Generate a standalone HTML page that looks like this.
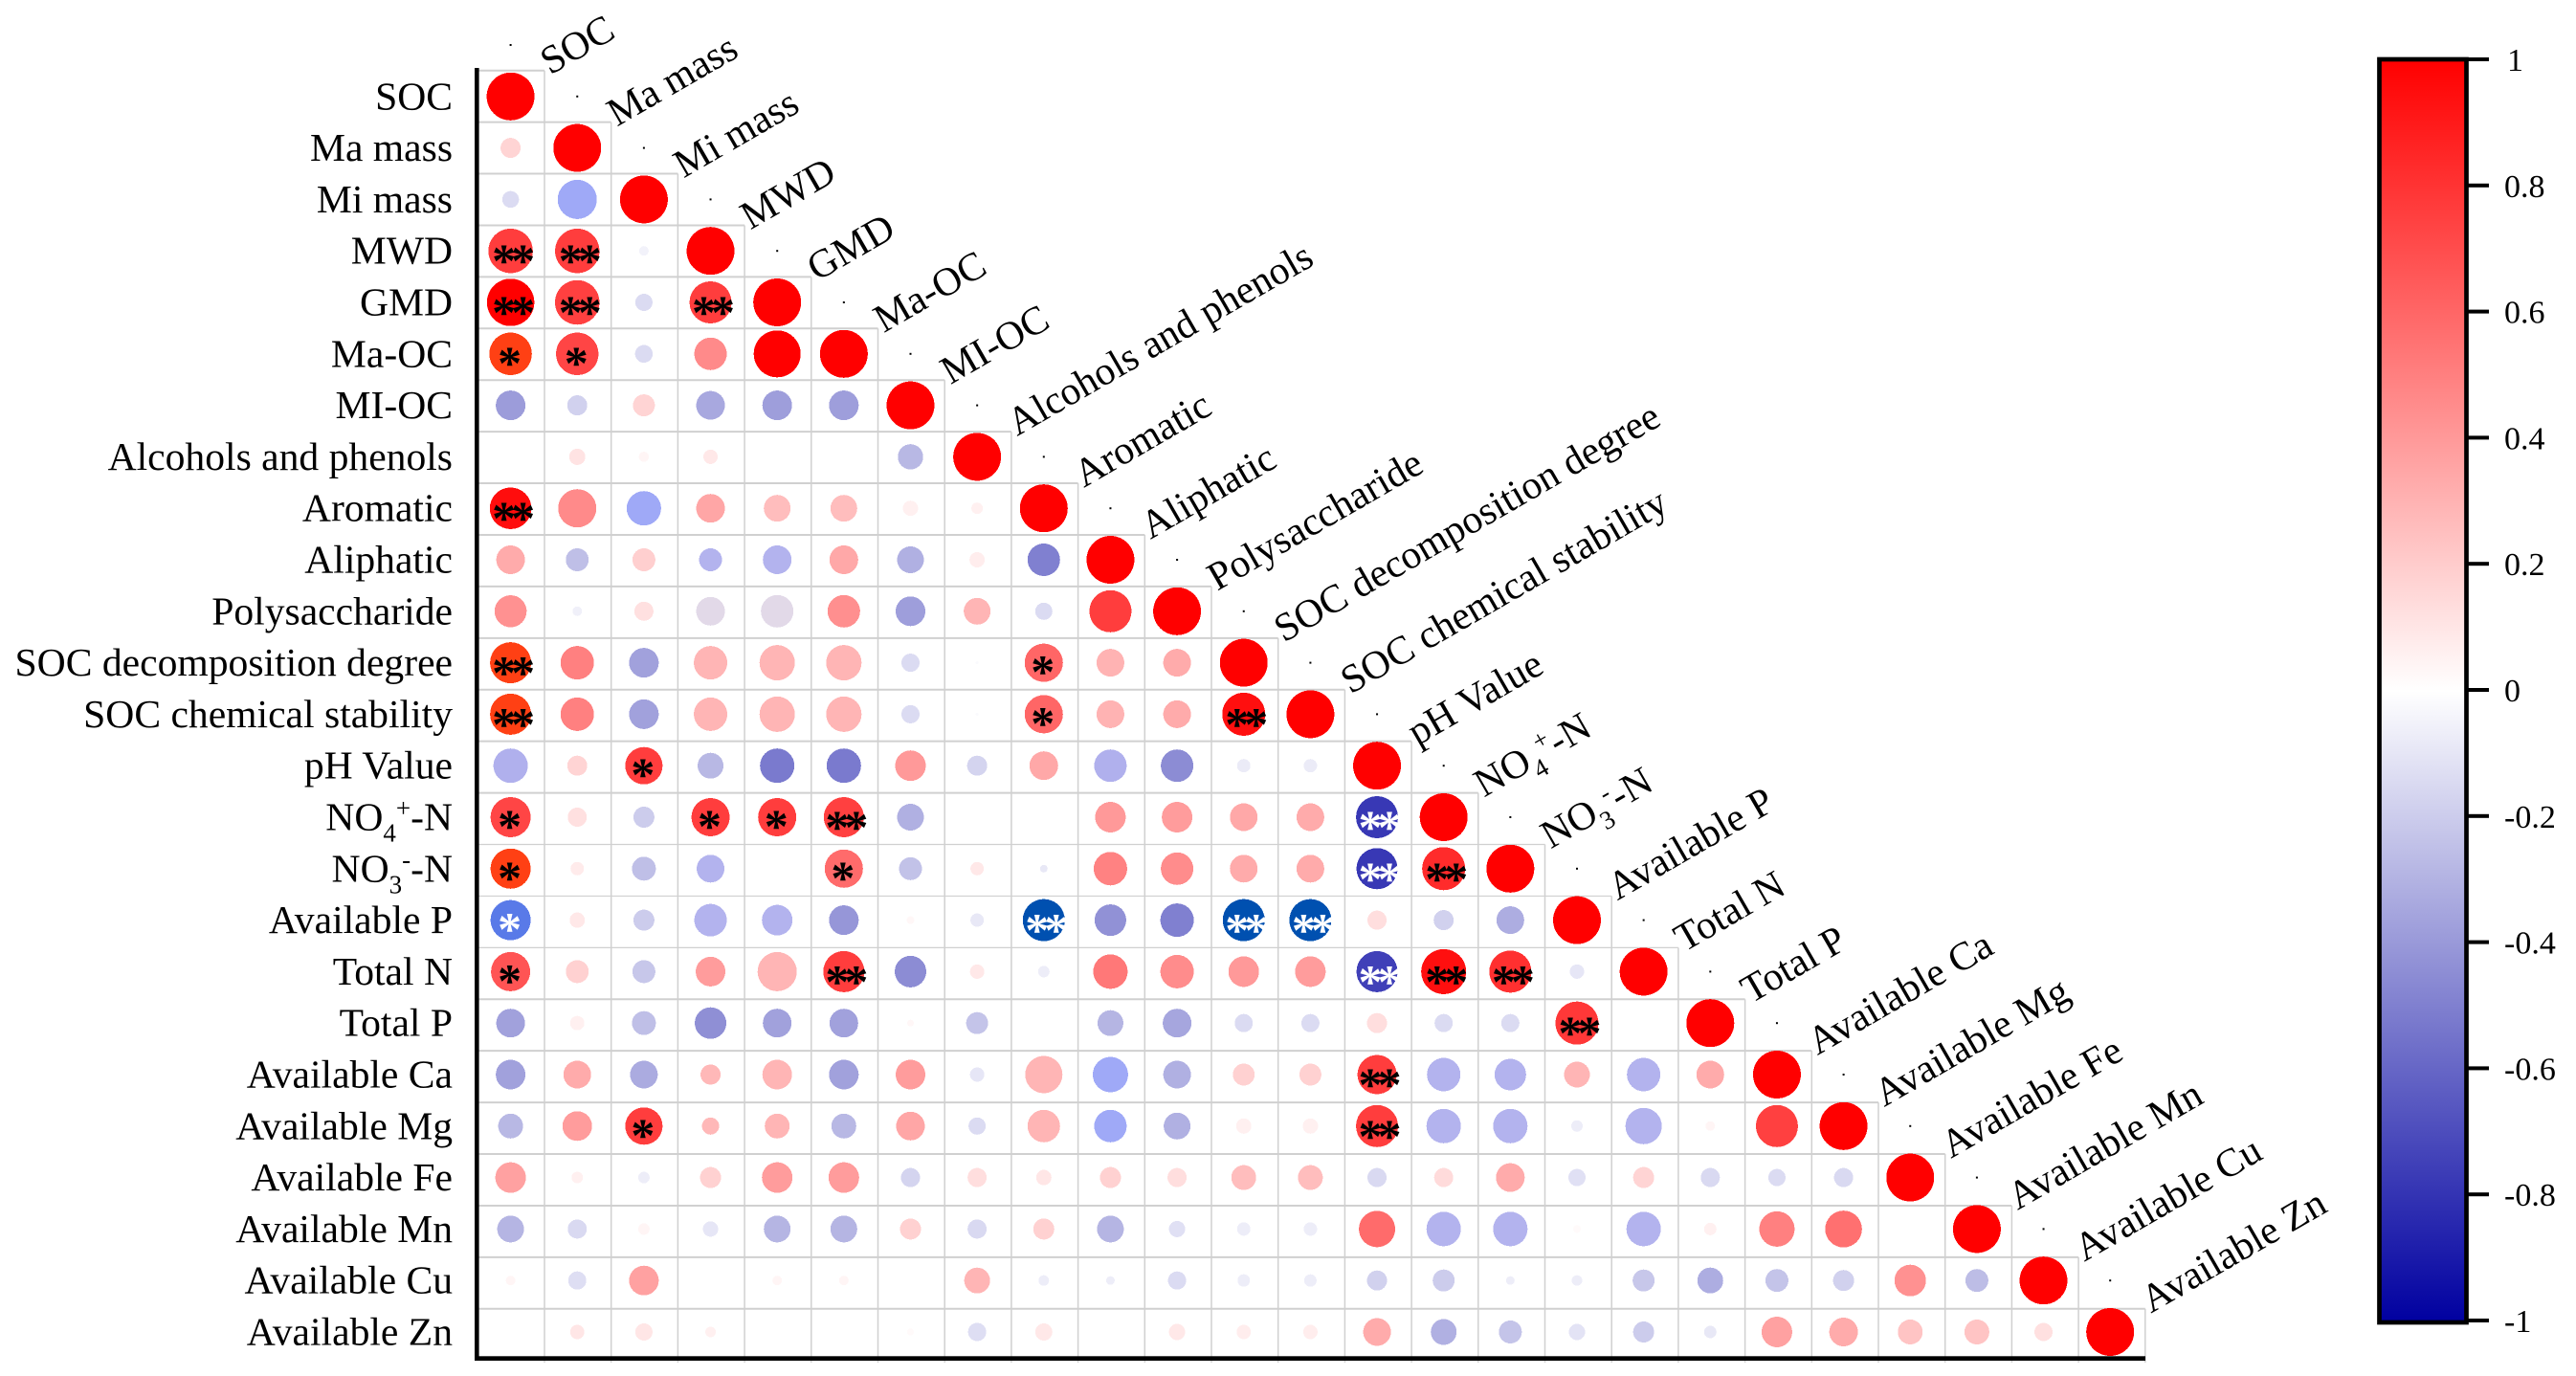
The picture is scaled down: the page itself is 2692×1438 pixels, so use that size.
<!DOCTYPE html>
<html>
<head>
<meta charset="utf-8">
<title>Correlation matrix</title>
<style>
html,body{margin:0;padding:0;background:#fff;width:2692px;height:1438px;overflow:hidden}
svg{display:block}
text{font-family:"Liberation Serif",serif;fill:#000}
</style>
</head>
<body>
<svg id="chart" xmlns="http://www.w3.org/2000/svg" width="2692" height="1438" viewBox="0 0 2692 1438">
<rect x="0" y="0" width="2692" height="1438" fill="#fff"/>
<defs><linearGradient id="cbar" x1="0" y1="0" x2="0" y2="1"></linearGradient></defs>
<g id="grid"></g>
<g id="marks"></g>
<g id="stars"></g>
<g id="dots"></g>
<rect x="496" y="71" width="4.6" height="1351" fill="#000"/>
<rect x="496" y="1417.3" width="1746" height="4.7" fill="#000"/>
<g id="rowLabels"></g>
<g id="colLabels"></g>
<g id="legend">
<rect x="2486.5" y="62" width="91" height="1320" fill="url(#cbar)" stroke="#000" stroke-width="4.7"/>
</g>
</svg>
<script>
const categories = ["SOC","Ma mass","Mi mass","MWD","GMD","Ma-OC","MI-OC","Alcohols and phenols","Aromatic","Aliphatic","Polysaccharide","SOC decomposition degree","SOC chemical stability","pH Value","NO4+-N","NO3--N","Available P","Total N","Total P","Available Ca","Available Mg","Available Fe","Available Mn","Available Cu","Available Zn"];
const labelParts = {"NO4+-N":["NO","4","+","-N"],"NO3--N":["NO","3","-","-N"]};
const colorbarTicks = [1,0.8,0.6,0.4,0.2,0,-0.2,-0.4,-0.6,-0.8,-1];

// correlation coefficient (x100), lower triangle, read row by row
const corr = [
[100],
[17,100],
[-14,-40,100],
[76,76,-5,100],
[100,75,-14,76,100],
[92,73,-14,46,100,100],
[-39,-18,17,-34,-38,-38,100],
[0,11,4,9,0,0,-28,100],
[95,46,-40,35,26,26,6,6,100],
[33,-25,19,-30,-30,34,-31,7,-50,100],
[43,-6,12,-15,-15,44,-38,29,-14,76,100],
[92,50,-37,29,29,29,-14,-2,60,30,33,100],
[92,50,-37,29,29,29,-14,-2,60,30,33,94,100],
[-31,17,76,-28,-52,-52,40,-17,34,-31,-45,-8,-8,100],
[73,12,-20,76,76,75,-31,0,0,40,39,34,33,-78,100],
[92,8,-25,-30,0,58,-24,9,-9,49,45,33,33,-78,83,100],
[-65,9,-20,-30,-30,-41,3,-9,-100,-43,-50,-100,-100,13,-18,-32,100],
[67,18,-22,39,29,76,-45,9,-7,53,45,40,39,-75,94,81,-10,100],
[-37,6,-25,-44,-37,-37,3,-23,0,-29,-35,-14,-14,13,-14,-14,78,0,100],
[-37,33,-33,28,29,-37,39,-10,29,-40,-31,18,18,76,-30,-30,29,-30,33,100],
[-28,39,76,28,29,-28,35,-14,29,-40,-31,6,6,76,-30,-30,-7,-30,4,75,100],
[37,6,-7,18,39,39,-17,13,10,18,13,26,26,-15,14,33,-12,17,-15,-14,-15,100],
[-29,-15,4,-10,-29,-29,18,-15,18,-29,-12,-7,-7,58,-30,-30,2,-30,6,50,56,0,100],
[4,-13,37,0,4,4,0,29,-7,-7,-14,-7,-7,-18,-20,-7,-7,-22,-32,-23,-18,43,-26,100],
[0,10,10,6,0,0,2,-13,9,0,9,7,7,33,-31,-23,-11,-20,-9,37,33,23,23,12,100]
];

// circle magnitude (percent of the full-size circle), same layout as corr
const magnitude = [
[100],
[42,100],
[35,82,100],
[93,93,20,100],
[99,93,36,88,100],
[89,89,37,68,98,100],
[62,42,46,60,62,62,100],
[0,34,21,30,0,0,53,100],
[87,80,72,60,56,56,32,24,100],
[60,48,48,48,60,60,56,32,68,100],
[67,20,40,60,68,68,62,56,36,88,100],
[86,70,62,70,74,74,38,6,80,58,58,100],
[86,70,62,70,74,74,38,6,80,58,58,90,100],
[72,42,78,54,72,72,64,42,60,68,68,28,28,100],
[84,40,44,80,80,84,56,0,0,64,64,58,58,88,100],
[84,28,50,58,0,80,48,28,16,70,68,58,58,86,90,100],
[84,32,44,68,64,62,16,28,88,66,70,88,88,40,42,58,100],
[82,48,48,62,82,86,66,30,24,72,70,64,64,86,94,88,30,100],
[60,30,50,66,60,60,14,46,0,54,60,38,38,42,38,38,90,0,100],
[62,58,58,42,62,62,62,30,78,74,58,46,46,82,70,66,54,70,58,100],
[52,62,78,36,52,52,60,36,68,68,56,32,32,88,72,72,24,76,20,88,100],
[64,24,24,44,64,64,40,40,32,44,40,52,52,40,40,60,36,44,40,36,40,100],
[56,40,24,32,56,56,44,40,44,56,34,28,28,76,72,72,16,72,26,74,77,0,100],
[20,38,62,0,20,20,0,54,22,18,38,26,26,42,46,18,22,46,54,48,44,66,48,100],
[0,30,36,22,0,0,14,38,36,0,34,30,30,58,54,48,34,44,26,64,60,52,52,38,100]
];

// significance: [row, column] index pairs
const doubleStarCells = [[3,0],[3,1],[4,0],[4,1],[4,3],[8,0],[11,0],[12,0],[12,11],[14,5],[14,13],[15,13],[15,14],[16,8],[16,11],[16,12],[17,5],[17,13],[17,14],[17,15],[18,16],[19,13],[20,13]];
const singleStarCells = [[5,0],[5,1],[11,8],[12,8],[13,2],[14,0],[14,3],[14,4],[15,0],[15,5],[16,0],[17,0],[20,2]];

// cells printed with a variant hue in the source figure: [row, column]
const periwinkleCells = [[2,1],[8,2],[19,9],[20,9]];
const lavenderCells = [[9,3],[9,4],[13,0],[13,9],[15,3],[16,3],[16,4],[19,14],[19,15],[19,17],[20,14],[20,15],[20,17],[22,14],[22,15],[22,17]];
const azureCells = [[16,8],[16,11],[16,12]];
const orangeCells = [[5,0],[11,0],[12,0],[15,0]];
const cornflowerCells = [[16,0]];
const mauveCells = [[10,3],[10,4]];

const NS = "http://www.w3.org/2000/svg";
const GRID_X0 = 499.3, GRID_Y0 = 73.7, GRID_W = 69.7, GRID_H = 53.92;
const n = categories.length;
const xScale = c => 533.6 + 69.65 * c;
const yScale = r => 100.8 + 53.8 * r;
const radius = m => 25 * m / 100;
const legendY = v => 62 + (1 - v) * 659;

function mk(tag, attrs, parent) {
  const el = document.createElementNS(NS, tag);
  for (const k in attrs) el.setAttribute(k, attrs[k]);
  parent.appendChild(el);
  return el;
}
function has(list, r, c) { return list.some(p => p[0] === r && p[1] === c); }
function ramp(end, t) {
  const a = Math.abs(t);
  return "rgb(" + end.map(v => Math.round(255 + (v - 255) * a)).join(",") + ")";
}
function baseColor(v) { return v >= 0 ? ramp([255,0,0], v) : ramp([0,0,160], v); }
function cellColor(v, r, c) {
  if (has(periwinkleCells, r, c)) return ramp([15,40,235], v);
  if (has(lavenderCells, r, c)) return ramp([0,0,198], v);
  if (has(azureCells, r, c)) return ramp([0,80,176], v);
  if (has(orangeCells, r, c)) return ramp([255,47,0], v);
  if (has(cornflowerCells, r, c)) return ramp([0,50,220], v);
  if (has(mauveCells, r, c)) return ramp([62,0,102], v);
  return baseColor(v);
}

const gridG = document.getElementById("grid");
for (let i = 0; i <= n; i++) {
  if (i < n) {
    const thin = i >= 15 && i <= 17;
    const hl = mk("line", {x1:GRID_X0, x2:GRID_X0 + GRID_W * (i + 1), y1:GRID_Y0 + GRID_H * i, y2:GRID_Y0 + GRID_H * i, stroke:"#d0d0d0", "stroke-width": thin ? 1.2 : 2}, gridG);
    
    
  }
  if (i > 0) {
    const vl = mk("line", {x1:GRID_X0 + GRID_W * i, x2:GRID_X0 + GRID_W * i, y1:GRID_Y0 + GRID_H * (i - 1), y2:1424, stroke:"#d0d0d0", "stroke-width":1.5}, gridG);
    
    
  }
}

const marksG = document.getElementById("marks");
corr.forEach((row, r) => row.forEach((val, c) => {
  const m = magnitude[r][c];
  if (!m) return;
  const circle = mk("circle", {cx:xScale(c), cy:yScale(r), r:radius(m), fill:cellColor(val / 100, r, c), "shape-rendering":"crispEdges"}, marksG);
  
  
}));

const starsG = document.getElementById("stars");
function addStars(list, str) {
  list.forEach(p => {
    const r = p[0], c = p[1];
    const white = corr[r][c] < -60;
    const cx = xScale(c);
    const xs = str.length > 1 ? (cx - 7) + " " + (cx + 13) : String(cx - 1);
    const t = mk("text", {x:xs, y:yScale(r) + (str.length > 1 ? 27 : 26), "text-anchor":"middle", "font-size":50, "font-weight":"bold", style:"fill:" + (white ? "#fff" : "#000")}, starsG);
    t.textContent = str;
    
    
  });
}
addStars(doubleStarCells, "**");
addStars(singleStarCells, "*");

function fillLabel(t, name) {
  const parts = labelParts[name];
  if (!parts) { t.textContent = name; return; }
  mk("tspan", {}, t).textContent = parts[0];
  mk("tspan", {dy:12, "font-size":27}, t).textContent = parts[1];
  mk("tspan", {dy:-26, "font-size":27}, t).textContent = parts[2];
  mk("tspan", {dy:14}, t).textContent = parts[3];
}

const rowG = document.getElementById("rowLabels");
const colG = document.getElementById("colLabels");
const dotsG = document.getElementById("dots");
categories.forEach((name, i) => {
  const rl = mk("text", {x:473, y:yScale(i) + 13.5, "text-anchor":"end", "font-size":41.6}, rowG);
  fillLabel(rl, name);
  
  

  const px = GRID_X0 + GRID_W * (i + 1) + 6, py = GRID_Y0 + GRID_H * i + 5;
  const cl = mk("text", {transform:"translate(" + px + "," + py + ") rotate(-30)", "font-size":41.6}, colG);
  fillLabel(cl, name);
  
  

  const dot = mk("rect", {x:xScale(i) - 1, y:yScale(i - 1) - 1, width:2, height:2, fill:"#000"}, dotsG);
  
  
});

const grad = document.getElementById("cbar");
colorbarTicks.forEach(v => {
  mk("stop", {offset:((1 - v) / 2 * 100) + "%", "stop-color":baseColor(v)}, grad);
});
const legendG = document.getElementById("legend");
colorbarTicks.forEach(v => {
  const tk = mk("rect", {x:2579, y:legendY(v) - 2, width:22, height:4, fill:"#000"}, legendG);
  
  
  const tl = mk("text", {x:v === 1 ? 2620 : 2617, y:legendY(v) + 12, "font-size":34}, legendG);
  tl.textContent = String(v);
  
  
});
</script>
</body>
</html>
